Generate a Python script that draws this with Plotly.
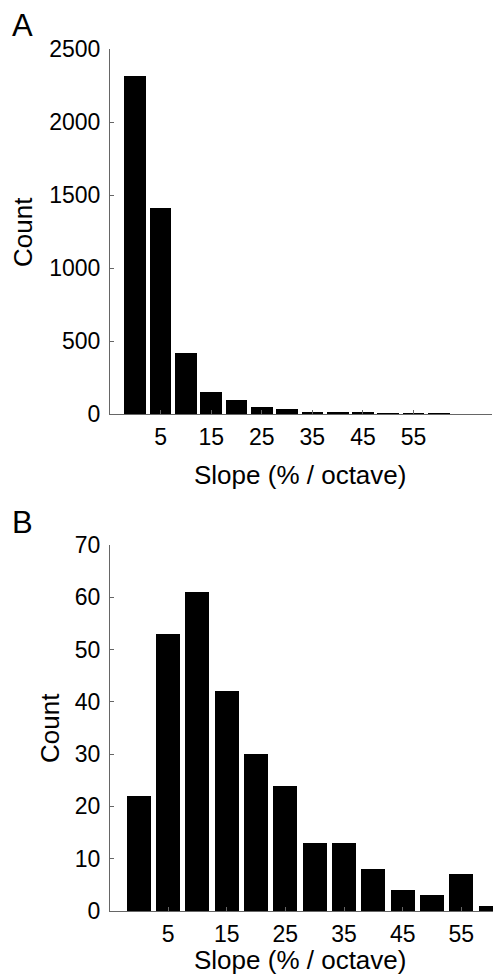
import plotly.graph_objects as go

# Panel A data
a_bins = [0, 5, 10, 15, 20, 25, 30, 35, 40, 45, 50, 55, 60]
a_counts = [2318, 1409, 420, 149, 98, 46, 32, 16, 10, 7, 3, 4, 6]

# Panel B data
b_bins = [0, 5, 10, 15, 20, 25, 30, 35, 40, 45, 50, 55, 60]
b_counts = [22, 53, 61, 42, 30, 24, 13, 13, 8, 4, 3, 7, 1]

x_tickvals = [5, 15, 25, 35, 45, 55]
x_ticktext = ["5", "15", "25", "35", "45", "55"]
a_yticks = [0, 500, 1000, 1500, 2000, 2500]
b_yticks = [0, 10, 20, 30, 40, 50, 60, 70]

W, H = 493, 974
FONT = "Liberation Sans, Arial, Helvetica, sans-serif"
AX = "#666666"

def px_x(p):
    return p / W

def px_y(p):
    return 1 - p / H

fig = go.Figure()
fig.add_trace(go.Bar(x=a_bins, y=a_counts, width=4.3, marker=dict(color="black", line=dict(width=0)),
                     xaxis="x", yaxis="y", showlegend=False))
fig.add_trace(go.Bar(x=b_bins, y=b_counts, width=4.1, marker=dict(color="black", line=dict(width=0)),
                     xaxis="x2", yaxis="y2", showlegend=False))

common_x = dict(tickmode="array", tickvals=x_tickvals, ticktext=x_ticktext, ticks="inside", ticklen=4,
                tickcolor=AX, showline=True, linecolor=AX, linewidth=1.2, showgrid=False, zeroline=False,
                tickfont=dict(family=FONT, size=23, color="black"), ticklabelstandoff=2, automargin=False)
common_y = dict(ticks="inside", ticklen=4, tickcolor=AX, showline=True, linecolor=AX, linewidth=1.2,
                showgrid=False, zeroline=False, tickfont=dict(family=FONT, size=23, color="black"),
                ticklabelstandoff=4, automargin=False)

fig.update_layout(
    template="none",
    width=W, height=H, margin=dict(l=0, r=0, t=0, b=0, pad=0, autoexpand=False),
    paper_bgcolor="white", plot_bgcolor="white", bargap=0,
    xaxis=dict(domain=[px_x(110), px_x(492)], range=[-5, 70.5], anchor="y", **common_x),
    yaxis=dict(domain=[px_y(414), px_y(49)], range=[0, 2500], tickvals=a_yticks, anchor="x", **common_y),
    xaxis2=dict(domain=[px_x(110), 1.0], range=[-4.9, 60.4], anchor="y2", **common_x),
    yaxis2=dict(domain=[px_y(911), px_y(545)], range=[0, 70], tickvals=b_yticks, anchor="x2", **common_y),
)

def ann(text, x, y, size, angle=0):
    fig.add_annotation(text=text, x=x / W, y=1 - y / H, xref="paper", yref="paper",
                       showarrow=False, textangle=angle, xanchor="center", yanchor="middle",
                       font=dict(family=FONT, size=size, color="black"))

ann("A", 22, 25, 31)
ann("B", 22, 522, 31)
ann("Count", 23, 232, 26, -90)
ann("Count", 50, 728, 26, -90)
ann("Slope (% / octave)", 300, 475, 26)
ann("Slope (% / octave)", 300, 960, 26)

fig.write_html("out.html")
